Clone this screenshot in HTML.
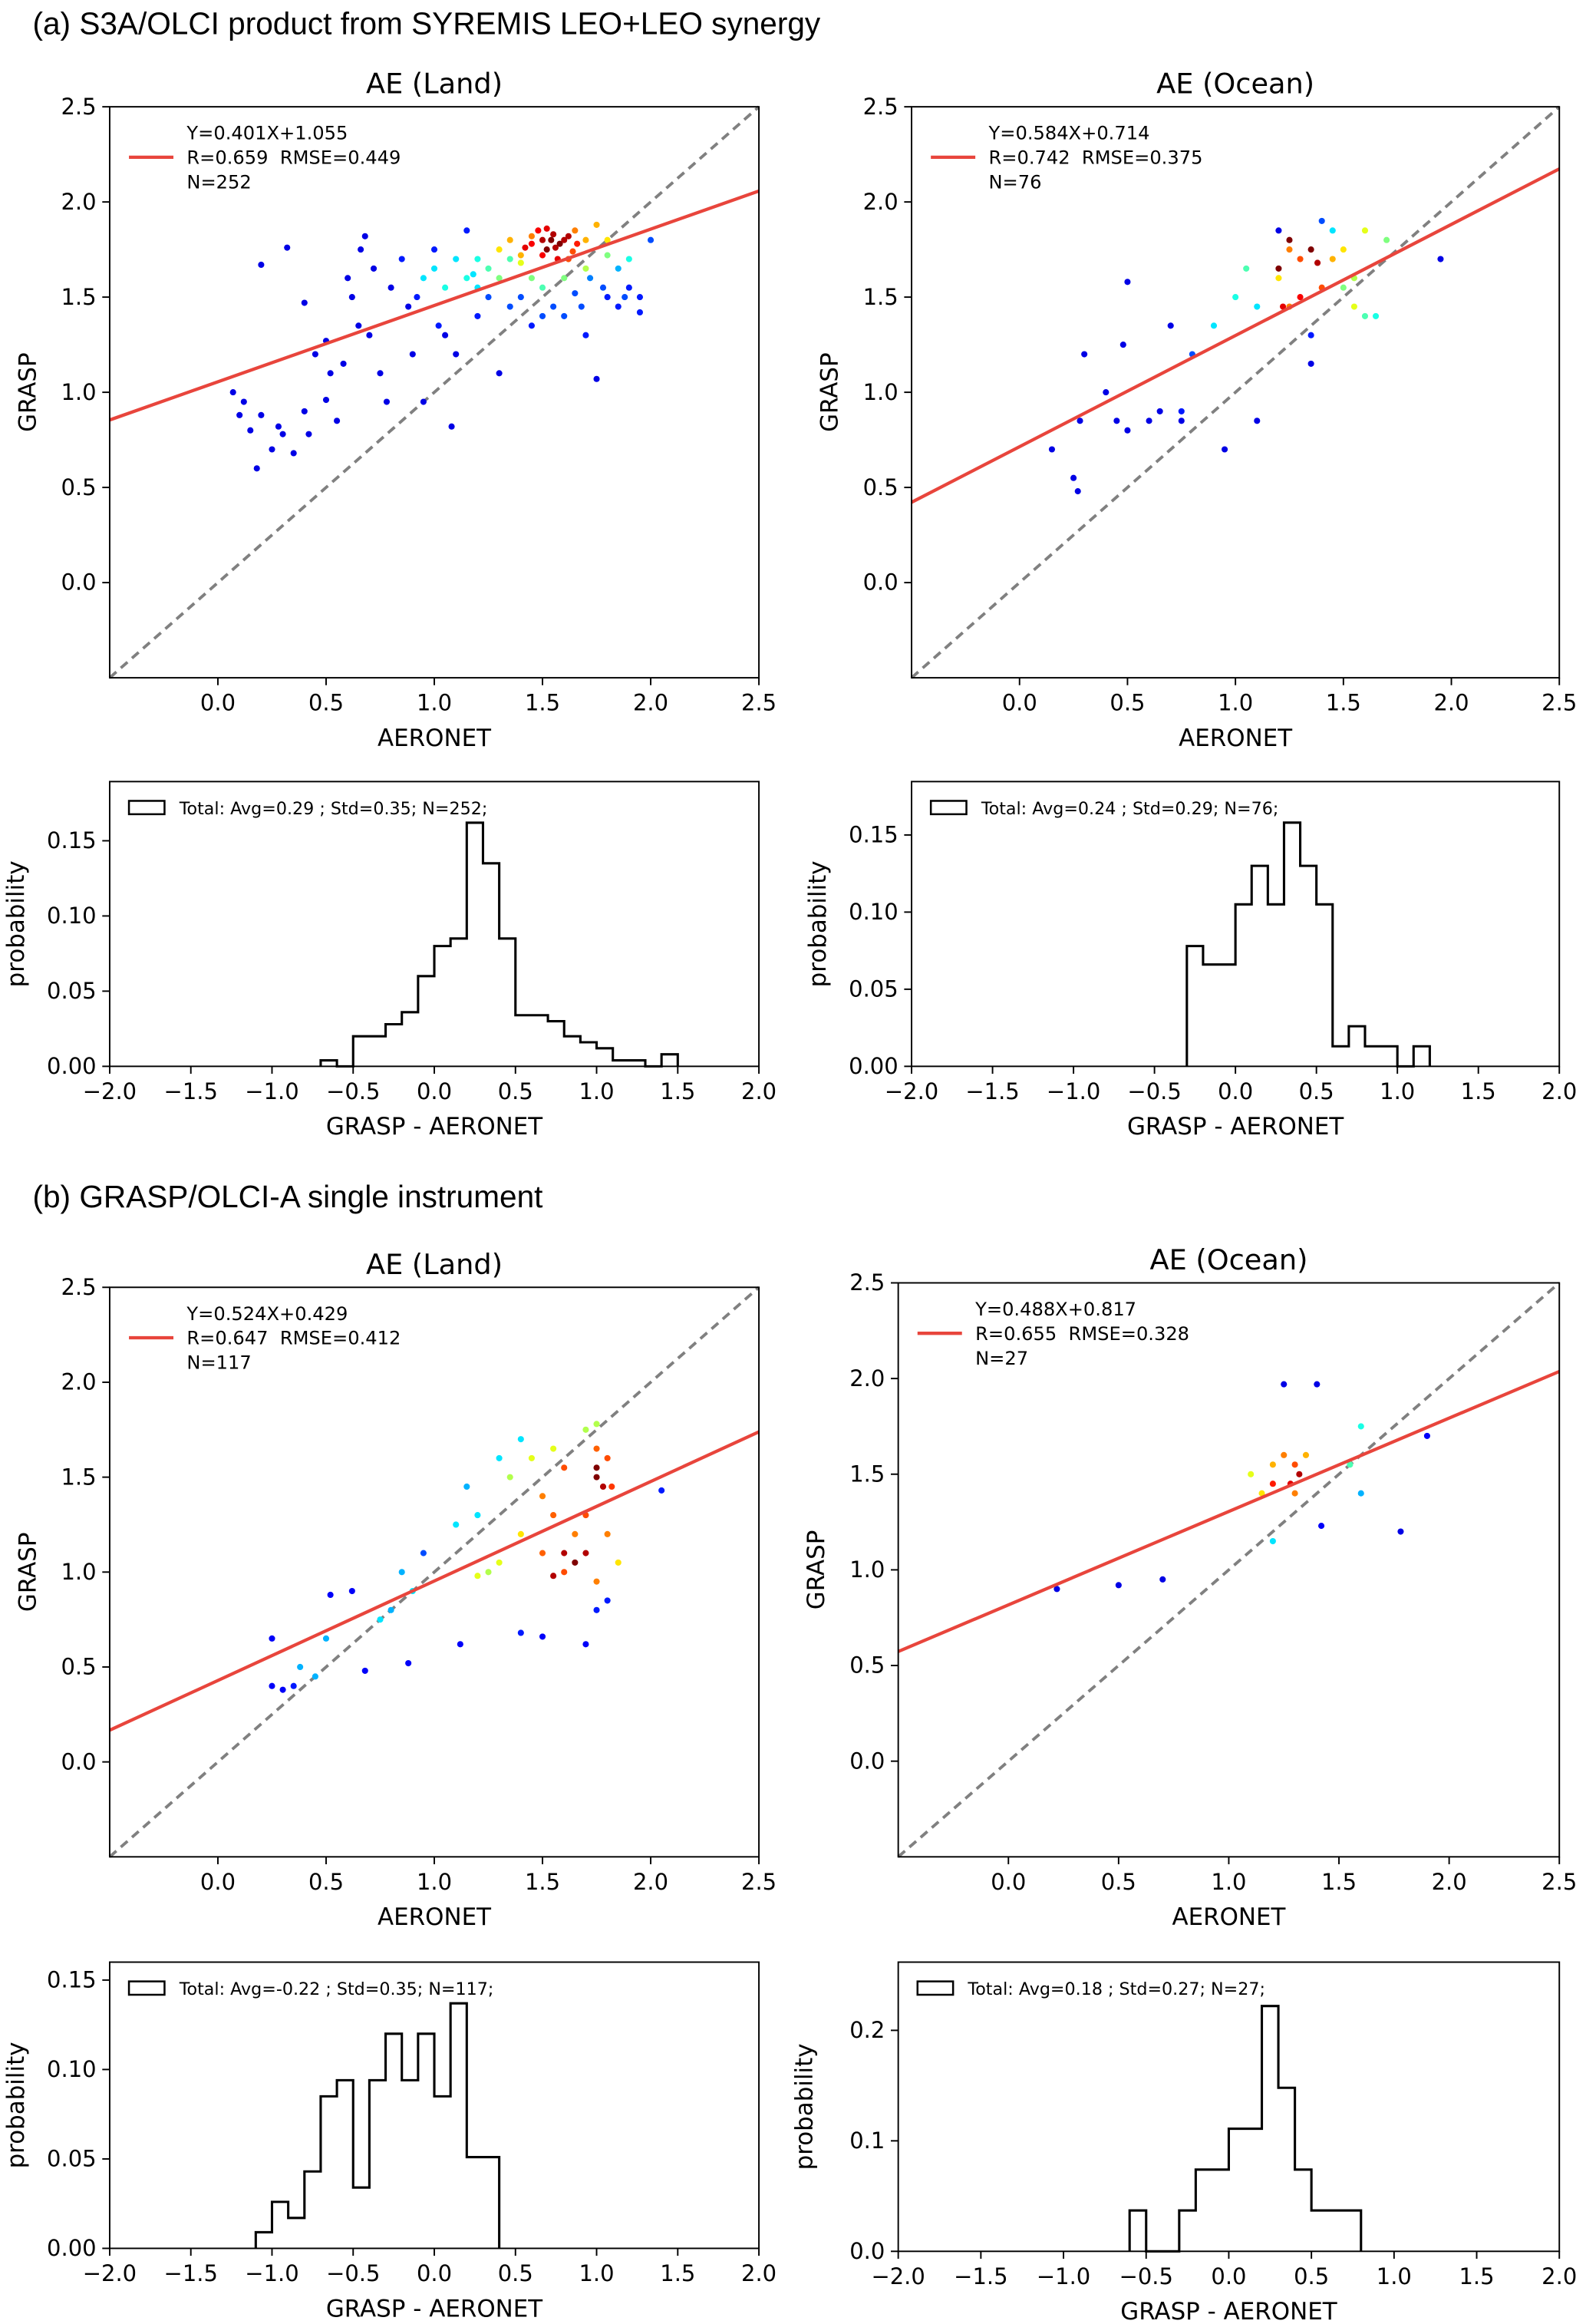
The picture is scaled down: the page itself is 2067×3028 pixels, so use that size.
<!DOCTYPE html>
<html><head><meta charset="utf-8">
<style>
html,body{margin:0;padding:0;background:#fff;}
svg{display:block;font-family:"DejaVu Sans","Liberation Sans",sans-serif;}
text{white-space:pre;}
</style></head>
<body>
<svg id="fig" xmlns="http://www.w3.org/2000/svg" width="2067" height="3028" viewBox="0 0 1070 1567" preserveAspectRatio="none">
<text x="22" y="23" font-size="21" font-family="Liberation Sans, sans-serif">(a) S3A/OLCI product from SYREMIS LEO+LEO synergy</text>
<text x="22" y="814" font-size="21" font-family="Liberation Sans, sans-serif">(b) GRASP/OLCI-A single instrument</text>
</svg>
<script>
// ---- data ----
const landAX=[0.07,0.1,0.15,0.18,0.2,0.2,0.25,0.3,0.32,0.35,0.4,0.4,0.45,0.5,0.5,0.52,0.55,0.6,0.62,0.65,0.68,0.7,0.72,0.75,0.78,0.8,0.85,0.88,0.9,0.95,1.0,1.05,1.08,1.1,1.15,1.2,1.25,1.3,1.4,1.45,1.55,1.6,1.65,1.7,1.72,1.75,1.8,1.85,1.9,1.95,2.0,1.95,1.85,0.95,1.0,1.05,1.1,1.15,1.2,1.25,1.3,1.35,1.2,1.45,1.5,1.6,1.7,1.8,1.9,1.3,1.35,1.4,1.45,1.65,1.7,1.75,1.8,1.62,1.45,1.5,1.52,1.55,1.58,1.6,1.5,1.48,1.57,1.62,0.12,0.28,0.42,0.58,0.66,0.92,1.02,1.18,1.35,1.5,1.68,1.78,1.88,1.42,1.54,1.66,1.4,1.56,1.64,1.52];
const landAY=[1.0,0.88,0.8,0.6,1.67,0.88,0.7,0.78,1.76,0.68,1.47,0.9,1.2,1.27,0.96,1.1,0.85,1.6,1.5,1.35,1.82,1.3,1.65,1.1,0.95,1.55,1.7,1.45,1.2,0.95,1.75,1.3,0.82,1.2,1.85,1.4,1.5,1.1,1.5,1.35,1.45,1.4,1.52,1.3,1.6,1.07,1.5,1.45,1.55,1.5,1.8,1.42,1.65,1.6,1.65,1.55,1.7,1.6,1.7,1.65,1.6,1.7,1.55,1.6,1.55,1.6,1.65,1.72,1.7,1.75,1.8,1.72,1.82,1.85,1.8,1.88,1.8,1.7,1.78,1.8,1.75,1.83,1.78,1.8,1.72,1.85,1.7,1.82,0.95,0.82,0.78,1.15,1.75,1.5,1.35,1.62,1.45,1.4,1.45,1.55,1.5,1.76,1.8,1.78,1.68,1.76,1.74,1.86];
const landAC=[.1,.1,.1,.1,.1,.1,.1,.1,.1,.1,.1,.1,.1,.1,.1,.1,.1,.1,.1,.1,.1,.1,.1,.1,.1,.1,.15,.1,.1,.1,.15,.1,.1,.1,.15,.15,.2,.1,.2,.15,.2,.2,.2,.15,.25,.1,.15,.15,.15,.15,.2,.15,.3,.35,.35,.4,.35,.4,.4,.45,.5,.45,.35,.5,.45,.5,.55,.5,.4,.65,.7,.7,.75,.75,.7,.7,.65,.8,.88,.95,1,.95,1,.95,.88,.88,.9,.95,.1,.1,.1,.1,.1,.15,.15,.35,.2,.2,.2,.2,.2,.9,1,.85,.6,.95,.8,.9];
const oceanAX=[0.15,0.25,0.27,0.28,0.3,0.4,0.45,0.48,0.5,0.5,0.6,0.7,0.75,0.75,0.8,0.95,1.1,1.2,1.35,1.35,1.4,1.95,0.65,0.9,1.0,1.05,1.1,1.6,1.65,1.5,1.55,1.7,1.45,1.55,1.2,1.25,1.3,1.25,1.3,1.4,1.45,1.5,1.6,1.2,1.25,1.35,1.38,1.22];
const oceanAY=[0.7,0.55,0.48,0.85,1.2,1.0,0.85,1.25,1.58,0.8,0.85,1.35,0.9,0.85,1.2,0.7,0.85,1.85,1.3,1.15,1.9,1.7,0.9,1.35,1.5,1.65,1.45,1.4,1.4,1.55,1.6,1.8,1.85,1.45,1.6,1.75,1.7,1.45,1.5,1.55,1.7,1.75,1.85,1.65,1.8,1.75,1.68,1.45];
const oceanAC=[.1,.1,.1,.1,.1,.1,.1,.1,.1,.1,.1,.1,.15,.1,.2,.1,.1,.1,.15,.1,.2,.1,.1,.35,.4,.45,.35,.45,.4,.5,.55,.5,.35,.6,.65,.75,.8,.75,.88,.8,.7,.65,.6,1,1,1,.95,.9];
const landBX=[0.25,0.25,0.3,0.35,0.52,0.62,0.68,0.88,1.12,1.4,1.5,1.7,1.75,1.8,2.05,0.95,0.38,0.5,0.75,0.8,0.85,0.9,1.1,1.2,1.3,1.4,1.15,0.45,1.25,1.3,1.35,1.45,1.55,1.7,1.75,1.2,1.4,1.85,1.5,1.55,1.6,1.65,1.7,1.75,1.8,1.82,1.8,1.75,1.6,1.5,1.6,1.65,1.7,1.75,1.78,1.75,1.55];
const landBY=[0.65,0.4,0.38,0.4,0.88,0.9,0.48,0.52,0.62,0.68,0.66,0.62,0.8,0.85,1.43,1.1,0.5,0.65,0.75,0.8,1.0,0.9,1.25,1.3,1.6,1.7,1.45,0.45,1.0,1.05,1.5,1.6,1.65,1.75,1.78,0.98,1.2,1.05,1.4,1.3,1.55,1.2,1.3,1.65,1.6,1.45,1.2,0.95,1.0,1.1,1.1,1.05,1.1,1.5,1.45,1.55,0.98];
const landBC=[.12,.12,.12,.15,.12,.12,.12,.12,.12,.15,.12,.12,.15,.15,.15,.2,.3,.3,.35,.3,.3,.35,.35,.35,.35,.35,.3,.3,.55,.6,.55,.6,.6,.55,.55,.6,.65,.65,.75,.78,.8,.75,.8,.78,.8,.82,.75,.75,.8,.78,.95,1,.95,1,.95,1,.95];
const oceanBX=[0.22,0.5,0.7,1.25,1.4,1.9,1.42,1.78,1.6,1.2,1.6,1.55,1.1,1.2,1.25,1.3,1.35,1.3,1.15,1.28,1.32,1.2];
const oceanBY=[0.9,0.92,0.95,1.97,1.97,1.7,1.23,1.2,1.4,1.15,1.75,1.55,1.5,1.55,1.6,1.55,1.6,1.4,1.4,1.45,1.5,1.45];
const oceanBC=[.1,.1,.1,.1,.1,.12,.12,.1,.3,.35,.4,.45,.6,.7,.75,.8,.7,.75,.65,.9,.95,.85];
const fitSlope=[0.401,0.584,0.524,0.488];
const fitInter=[1.055,0.714,0.429,0.817];
const histLandAEdges=[-0.7,-0.6,-0.5,-0.4,-0.3,-0.2,-0.1,0.0,0.1,0.2,0.3,0.4,0.5,0.6,0.7,0.8,0.9,1.0,1.1,1.2,1.3,1.4,1.5];
const histLandAVals=[0.004,0,0.02,0.02,0.028,0.036,0.06,0.08,0.085,0.162,0.135,0.085,0.034,0.034,0.03,0.02,0.016,0.012,0.004,0.004,0,0.008];
const histOceanAEdges=[-0.3,-0.2,-0.1,0.0,0.1,0.2,0.3,0.4,0.5,0.6,0.7,0.8,0.9,1.0,1.1,1.2];
const histOceanAVals=[0.078,0.066,0.066,0.105,0.13,0.105,0.158,0.13,0.105,0.013,0.026,0.013,0.013,0,0.013];
const histLandBEdges=[-1.1,-1.0,-0.9,-0.8,-0.7,-0.6,-0.5,-0.4,-0.3,-0.2,-0.1,0.0,0.1,0.2,0.3,0.4];
const histLandBVals=[0.009,0.026,0.017,0.043,0.085,0.094,0.034,0.094,0.12,0.094,0.12,0.085,0.137,0.051,0.051];
const histOceanBEdges=[-0.6,-0.5,-0.4,-0.3,-0.2,-0.1,0.0,0.1,0.2,0.3,0.4,0.5,0.6,0.7,0.8];
const histOceanBVals=[0.037,0,0,0.037,0.074,0.074,0.111,0.111,0.222,0.148,0.074,0.037,0.037,0.037];
const scatterTicks=[0.0,0.5,1.0,1.5,2.0,2.5];
const histXTicks=[-2.0,-1.5,-1.0,-0.5,0.0,0.5,1.0,1.5,2.0];

const NS="http://www.w3.org/2000/svg";
const svg=document.getElementById('fig');
function mk(tag,attrs,parent){const e=document.createElementNS(NS,tag);for(const k in attrs)e.setAttribute(k,attrs[k]);(parent||svg).appendChild(e);return e;}
function txt(x,y,s,size,anchor,parent){const t=mk('text',{x:x,y:y,'font-size':size,'text-anchor':anchor||'start'},parent);t.textContent=s;return t;}
function jet(v){v=Math.max(0,Math.min(1,v));const r=Math.max(0,Math.min(1,1.5-Math.abs(4*v-3))),g=Math.max(0,Math.min(1,1.5-Math.abs(4*v-2))),b=Math.max(0,Math.min(1,1.5-Math.abs(4*v-1)));return `rgb(${r*255|0},${g*255|0},${b*255|0})`;}
function fmt(v){return v.toFixed(1).replace('-','\u2212');}

function scatter(p){
  const g=mk('g',{});
  
  
  const sx=v=>p.x0+(v+0.5)/3*(p.x1-p.x0);
  const sy=v=>p.y1-(v+0.5)/3*(p.y1-p.y0);
  const ttl=txt((p.x0+p.x1)/2,p.y0-9,p.title,19,'middle',g);
  
  
  const d=mk('line',{x1:sx(-0.5),y1:sy(-0.5),x2:sx(2.5),y2:sy(2.5),stroke:'#808080','stroke-width':2,'stroke-dasharray':'6,4'},g);
  
  
  for(let i=0;i<p.xs.length;i++){
    const c=mk('circle',{cx:sx(p.xs[i]),cy:sy(p.ys[i]),r:2.1,fill:jet(p.cs[i])},g);
    
    
  }
  const s=fitSlope[p.fi],b=fitInter[p.fi];
  const fl=mk('line',{x1:sx(-0.5),y1:sy(b-0.5*s),x2:sx(2.5),y2:sy(b+2.5*s),stroke:'#e8453c','stroke-width':2.2},g);
  
  
  mk('rect',{x:p.x0,y:p.y0,width:p.x1-p.x0,height:p.y1-p.y0,fill:'none',stroke:'#000','stroke-width':1},g);
  for(const t of scatterTicks){
    mk('line',{x1:sx(t),y1:p.y1,x2:sx(t),y2:p.y1+5,stroke:'#000'},g);
    const xl=txt(sx(t),p.y1+22,t.toFixed(1),15,'middle',g);
    
    
    mk('line',{x1:p.x0,y1:sy(t),x2:p.x0-5,y2:sy(t),stroke:'#000'},g);
    const yl=txt(p.x0-9,sy(t)+5,t.toFixed(1),15,'end',g);
    
    
  }
  const xa=txt((p.x0+p.x1)/2,p.y1+46,'AERONET',16,'middle',g);
  
  
  const cy=(p.y0+p.y1)/2,cx=p.x0-50;
  const ya=txt(cx,cy,'GRASP',16,'middle',g);ya.setAttribute('transform',`rotate(-90 ${cx} ${cy})`);
  
  
  const lg=mk('g',{},g);
  
  
  mk('line',{x1:p.x0+13,y1:p.y0+34,x2:p.x0+43,y2:p.y0+34,stroke:'#e8453c','stroke-width':2.2},lg);
  const lines=[`Y=${s.toFixed(3)}X+${b.toFixed(3)}`,p.rr,p.n];
  lines.forEach((l,i)=>txt(p.x0+52,p.y0+22+i*16.5,l,12.5,'start',lg));
}

function hist(p){
  const g=mk('g',{});
  
  
  const sx=v=>p.x0+(v+2)/4*(p.x1-p.x0);
  const sy=v=>p.yz-v/p.unit*p.upx;
  let d=`M${sx(p.edges[0])},${p.yz}`;
  for(let i=0;i<p.vals.length;i++){d+=` L${sx(p.edges[i])},${sy(p.vals[i])} L${sx(p.edges[i+1])},${sy(p.vals[i])}`;}
  d+=` L${sx(p.edges[p.edges.length-1])},${p.yz}`;
  const h=mk('path',{d:d,fill:'none',stroke:'#000','stroke-width':1.6},g);
  
  
  mk('rect',{x:p.x0,y:p.y0,width:p.x1-p.x0,height:p.yz-p.y0,fill:'none',stroke:'#000','stroke-width':1},g);
  for(const t of histXTicks){
    mk('line',{x1:sx(t),y1:p.yz,x2:sx(t),y2:p.yz+5,stroke:'#000'},g);
    const xl=txt(sx(t),p.yz+22,fmt(t),15,'middle',g);
    
    
  }
  for(const t of p.yt){
    mk('line',{x1:p.x0,y1:sy(t),x2:p.x0-5,y2:sy(t),stroke:'#000'},g);
    const yl=txt(p.x0-9,sy(t)+5,t.toFixed(p.dec),15,'end',g);
    
    
  }
  const xa=txt((p.x0+p.x1)/2,p.yz+46,'GRASP - AERONET',16,'middle',g);
  
  
  const cy=(p.y0+p.yz)/2,cx=p.x0-58;
  const ya=txt(cx,cy,'probability',16,'middle',g);ya.setAttribute('transform',`rotate(-90 ${cx} ${cy})`);
  
  
  const lg=mk('g',{},g);
  
  
  mk('rect',{x:p.x0+13,y:p.y0+13,width:24,height:9,fill:'none',stroke:'#000','stroke-width':1.3},lg);
  txt(p.x0+47,p.y0+22,p.leg,11.5,'start',lg);
}

scatter({name:'scatter-land-a',title:'AE (Land)',x0:74,x1:512,y0:72,y1:457,xs:landAX,ys:landAY,cs:landAC,fi:0,rr:'R=0.659  RMSE=0.449',n:'N=252'});
scatter({name:'scatter-ocean-a',title:'AE (Ocean)',x0:615,x1:1052,y0:72,y1:457,xs:oceanAX,ys:oceanAY,cs:oceanAC,fi:1,rr:'R=0.742  RMSE=0.375',n:'N=76'});
scatter({name:'scatter-land-b',title:'AE (Land)',x0:74,x1:512,y0:868,y1:1252,xs:landBX,ys:landBY,cs:landBC,fi:2,rr:'R=0.647  RMSE=0.412',n:'N=117'});
scatter({name:'scatter-ocean-b',title:'AE (Ocean)',x0:606,x1:1052,y0:865,y1:1252,xs:oceanBX,ys:oceanBY,cs:oceanBC,fi:3,rr:'R=0.655  RMSE=0.328',n:'N=27'});
hist({name:'hist-land-a',x0:74,x1:512,y0:527,yz:719,unit:0.05,upx:50.7,yt:[0,0.05,0.10,0.15],dec:2,edges:histLandAEdges,vals:histLandAVals,leg:'Total: Avg=0.29 ; Std=0.35; N=252;'});
hist({name:'hist-ocean-a',x0:615,x1:1052,y0:527,yz:719,unit:0.05,upx:52,yt:[0,0.05,0.10,0.15],dec:2,edges:histOceanAEdges,vals:histOceanAVals,leg:'Total: Avg=0.24 ; Std=0.29; N=76;'});
hist({name:'hist-land-b',x0:74,x1:512,y0:1323,yz:1516,unit:0.05,upx:60.3,yt:[0,0.05,0.10,0.15],dec:2,edges:histLandBEdges,vals:histLandBVals,leg:'Total: Avg=-0.22 ; Std=0.35; N=117;'});
hist({name:'hist-ocean-b',x0:606,x1:1052,y0:1323,yz:1518,unit:0.1,upx:74.5,yt:[0,0.1,0.2],dec:1,edges:histOceanBEdges,vals:histOceanBVals,leg:'Total: Avg=0.18 ; Std=0.27; N=27;'});
</script>
</body></html>
